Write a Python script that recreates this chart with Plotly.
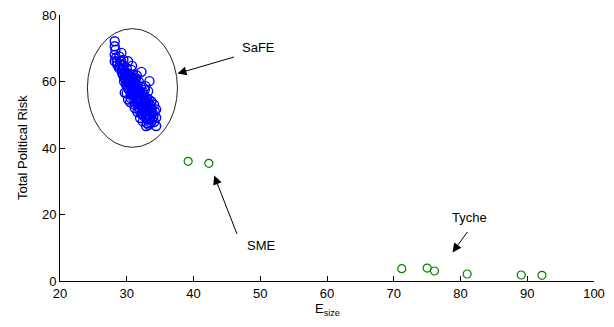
import plotly.graph_objects as go

# SaFE cluster (blue)
safe_x = [28.2, 28.2, 28.2, 28.2, 28.3, 28.4, 28.6, 28.8, 29.2, 29.2, 29.3, 29.4, 29.5, 29.6,
          29.7, 29.8, 29.9, 30.0, 30.2, 30.2, 30.2, 30.3, 30.4, 30.5, 30.6, 30.7, 30.7, 30.8,
          30.9, 31.0, 31.0, 31.1, 31.2, 31.3, 31.4, 31.4, 31.5, 31.6, 31.7, 31.8, 31.8, 31.9,
          32.0, 32.1, 32.2, 32.2, 32.3, 32.4, 32.5, 32.6, 32.7, 32.8, 32.9, 33.0, 33.1, 33.2,
          33.2, 33.4, 33.5, 33.6, 33.8, 34.0, 34.2, 34.4, 34.4, 34.4, 32.9, 30.0, 29.7, 30.2,
          31.2, 31.6, 32.0, 32.4, 33.0, 33.3, 33.7, 34.1, 30.5, 31.0,
          28.5, 28.9, 29.0, 29.1, 29.4, 29.6, 29.9, 30.1, 30.4, 30.6, 30.9, 31.1, 31.3, 31.5,
          31.7, 31.9, 32.1, 32.3, 32.5, 32.7, 32.9, 33.1, 33.3, 33.5, 33.7, 33.9, 34.1, 30.0,
          30.3, 30.8, 31.2, 31.7, 32.2, 32.6, 33.0, 33.4, 29.5, 30.8, 31.5, 32.8,
          29.0, 29.3, 29.6, 29.8, 30.1, 30.3, 30.5, 30.7, 30.9, 31.1, 31.3, 31.5, 31.7, 31.9,
          32.1, 32.3, 32.5, 32.7, 32.9, 33.1, 33.3, 33.5, 33.7, 31.0, 31.4, 31.8, 32.2, 32.6,
          30.6, 31.2, 31.9, 32.4, 33.0, 33.6]
safe_y = [72.1, 70.6, 68.0, 66.1, 69.5, 67.2, 65.0, 64.2, 68.6, 65.9, 63.5, 62.0, 64.8, 61.2,
          63.0, 60.5, 59.0, 62.5, 66.1, 62.0, 58.0, 60.8, 57.2, 59.6, 61.5, 63.5, 56.2, 58.5,
          60.2, 62.0, 55.0, 57.8, 59.5, 54.2, 61.0, 56.5, 53.3, 58.2, 55.2, 60.0, 52.2, 57.0,
          54.5, 56.2, 62.9, 50.2, 53.0, 55.5, 51.5, 54.0, 57.5, 52.5, 49.5, 55.0, 51.0, 57.1,
          53.5, 60.1, 50.0, 52.0, 48.2, 49.5, 51.0, 51.6, 49.1, 46.6, 46.6, 56.5, 56.6, 54.6,
          52.0, 50.8, 49.0, 48.0, 47.5, 47.0, 54.0, 53.0, 53.8, 58.8,
          66.0, 67.5, 63.8, 66.2, 64.0, 62.8, 61.5, 60.0, 62.3, 58.2, 61.0, 59.8, 57.0, 59.0,
          57.6, 54.6, 58.5, 51.8, 56.8, 55.0, 53.2, 52.6, 54.6, 53.0, 50.8, 50.5, 47.8, 64.0,
          59.2, 56.9, 60.8, 53.8, 55.6, 49.5, 51.8, 48.5, 66.5, 64.7, 61.8, 58.6,
          65.2, 62.6, 60.0, 61.8, 58.9, 61.4, 57.8, 59.2, 56.0, 58.0, 55.8, 57.4, 53.6, 55.9,
          53.8, 56.5, 52.8, 51.0, 54.2, 50.0, 51.3, 49.0, 51.9, 60.5, 58.4, 56.0, 54.0, 52.2,
          55.0, 53.0, 51.2, 50.4, 48.8, 47.6]

# SME and Tyche (green)
green_x = [39.2, 42.3, 71.2, 75.0, 76.1, 81.0, 89.1, 92.2]
green_y = [36.0, 35.4, 3.7, 3.9, 3.0, 2.1, 1.8, 1.7]

x_ticks = [20, 30, 40, 50, 60, 70, 80, 90, 100]
y_ticks = [0, 20, 40, 60, 80]

FONT = "Liberation Sans, Arial, Helvetica, sans-serif"

fig = go.Figure()
fig.add_trace(go.Scatter(x=safe_x, y=safe_y, mode="markers",
                         marker=dict(symbol="circle-open", size=9, color="#0000ff",
                                     line=dict(width=1.4, color="#0000ff")),
                         showlegend=False, cliponaxis=False))
fig.add_trace(go.Scatter(x=green_x, y=green_y, mode="markers",
                         marker=dict(symbol="circle-open", size=8, color="#008000",
                                     line=dict(width=1.2, color="#008000")),
                         showlegend=False, cliponaxis=False))

# ellipse around SaFE cluster
fig.add_shape(type="circle", xref="x", yref="y", x0=24.1, x1=37.6, y0=40.2, y1=75.9,
              line=dict(color="#222222", width=1))

def arrow(tx, ty, hx, hy):
    fig.add_annotation(x=hx, y=hy, ax=tx, ay=ty, xref="x", yref="y", axref="x", ayref="y",
                       text="", showarrow=True, arrowhead=2, arrowsize=1.8, arrowwidth=1,
                       arrowcolor="black", standoff=0)

def label(x, y, t):
    fig.add_annotation(x=x, y=y, xref="x", yref="y", text=t, showarrow=False,
                       font=dict(family=FONT, size=13, color="black"))

arrow(46.3, 67.5, 37.6, 62.4)
label(49.8, 70.2, "SaFE")
arrow(46.6, 13.7, 43.1, 31.7)
label(50.2, 10.7, "SME")
arrow(81.2, 15.2, 78.8, 8.6)
label(81.4, 19.1, "Tyche")

# axis titles as annotations for exact placement
fig.add_annotation(xref="paper", yref="paper", x=0.5, y=0, xanchor="center", yanchor="top",
                   yshift=-18, text="E<sub>size</sub>", showarrow=False,
                   font=dict(family=FONT, size=13, color="black"))
fig.add_annotation(xref="paper", yref="paper", x=0, y=0.5, xanchor="center", yanchor="middle",
                   xshift=-38, textangle=-90, text="Total Political Risk", showarrow=False,
                   font=dict(family=FONT, size=13, color="black"))

# page body has an 8px margin, so the figure is sized/offset to compensate
fig.update_layout(
    width=606, height=319,
    margin=dict(l=52, r=20, t=7, b=46, autoexpand=False),
    paper_bgcolor="white", plot_bgcolor="white",
    font=dict(family=FONT, size=12, color="black"),
)
fig.update_xaxes(range=[20, 100], tickvals=x_ticks, ticktext=[str(v) for v in x_ticks],
                 ticks="inside", ticklen=5, tickcolor="black", showline=True, linecolor="black",
                 linewidth=1, showgrid=False, zeroline=False, mirror=False, automargin=False,
                 ticklabeloverflow="allow", tickfont=dict(size=13))
fig.update_yaxes(range=[0, 80], tickvals=y_ticks, ticktext=[str(v) for v in y_ticks],
                 ticks="inside", ticklen=5, tickcolor="black", showline=True, linecolor="black",
                 linewidth=1, showgrid=False, zeroline=False, mirror=False, automargin=False,
                 ticklabeloverflow="allow", tickfont=dict(size=13))

fig.write_html("out.html")
